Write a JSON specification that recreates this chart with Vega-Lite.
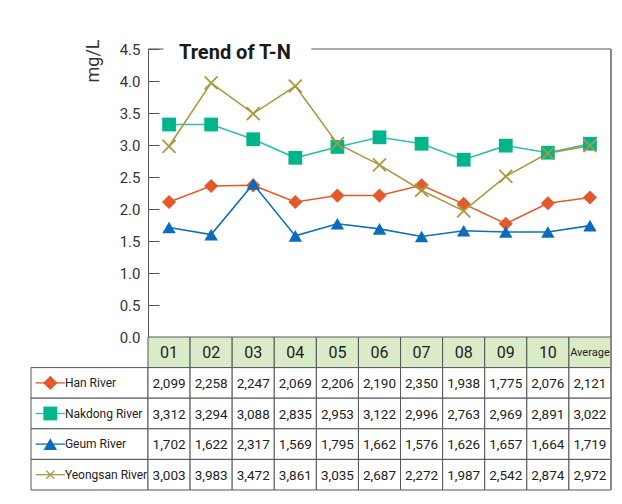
{
  "$schema": "https://vega.github.io/schema/vega-lite/v6.json",
  "background": "white",
  "padding": {"left": 30, "top": 39, "right": 5, "bottom": 5},
  "config": {
    "view": {"stroke": null},
    "font": "Roboto",
    "axisY": {"values": [0,0.5,1,1.5,2,2.5,3,3.5,4,4.5], "format": ".1f", "grid": false, "tickSize": -11, "labelPadding": 19, "tickColor": "#555", "domainColor": "#555", "labelColor": "#333", "labelFontSize": 15, "labelFont": "Roboto",
      "titleFontSize": 18, "titleFontWeight": "normal", "titleColor": "#333", "titleFont": "Roboto", "titleAngle": -90, "titleX": -46, "titleY": -10, "titleAlign": "right", "titleBaseline": "bottom"}
  },
  "datasets": {
    "tn": [
      {"river": "Han River", "month": "01", "plotted": 2.11, "table": "2,099"},
      {"river": "Han River", "month": "02", "plotted": 2.36, "table": "2,258"},
      {"river": "Han River", "month": "03", "plotted": 2.37, "table": "2,247"},
      {"river": "Han River", "month": "04", "plotted": 2.11, "table": "2,069"},
      {"river": "Han River", "month": "05", "plotted": 2.21, "table": "2,206"},
      {"river": "Han River", "month": "06", "plotted": 2.21, "table": "2,190"},
      {"river": "Han River", "month": "07", "plotted": 2.37, "table": "2,350"},
      {"river": "Han River", "month": "08", "plotted": 2.08, "table": "1,938"},
      {"river": "Han River", "month": "09", "plotted": 1.77, "table": "1,775"},
      {"river": "Han River", "month": "10", "plotted": 2.09, "table": "2,076"},
      {"river": "Han River", "month": "Average", "plotted": 2.18, "table": "2,121"},
      {"river": "Nakdong River", "month": "01", "plotted": 3.32, "table": "3,312"},
      {"river": "Nakdong River", "month": "02", "plotted": 3.32, "table": "3,294"},
      {"river": "Nakdong River", "month": "03", "plotted": 3.09, "table": "3,088"},
      {"river": "Nakdong River", "month": "04", "plotted": 2.8, "table": "2,835"},
      {"river": "Nakdong River", "month": "05", "plotted": 2.97, "table": "2,953"},
      {"river": "Nakdong River", "month": "06", "plotted": 3.12, "table": "3,122"},
      {"river": "Nakdong River", "month": "07", "plotted": 3.02, "table": "2,996"},
      {"river": "Nakdong River", "month": "08", "plotted": 2.77, "table": "2,763"},
      {"river": "Nakdong River", "month": "09", "plotted": 2.99, "table": "2,969"},
      {"river": "Nakdong River", "month": "10", "plotted": 2.88, "table": "2,891"},
      {"river": "Nakdong River", "month": "Average", "plotted": 3.02, "table": "3,022"},
      {"river": "Geum River", "month": "01", "plotted": 1.71, "table": "1,702"},
      {"river": "Geum River", "month": "02", "plotted": 1.6, "table": "1,622"},
      {"river": "Geum River", "month": "03", "plotted": 2.39, "table": "2,317"},
      {"river": "Geum River", "month": "04", "plotted": 1.58, "table": "1,569"},
      {"river": "Geum River", "month": "05", "plotted": 1.77, "table": "1,795"},
      {"river": "Geum River", "month": "06", "plotted": 1.69, "table": "1,662"},
      {"river": "Geum River", "month": "07", "plotted": 1.57, "table": "1,576"},
      {"river": "Geum River", "month": "08", "plotted": 1.66, "table": "1,626"},
      {"river": "Geum River", "month": "09", "plotted": 1.64, "table": "1,657"},
      {"river": "Geum River", "month": "10", "plotted": 1.64, "table": "1,664"},
      {"river": "Geum River", "month": "Average", "plotted": 1.74, "table": "1,719"},
      {"river": "Yeongsan River", "month": "01", "plotted": 2.98, "table": "3,003"},
      {"river": "Yeongsan River", "month": "02", "plotted": 3.97, "table": "3,983"},
      {"river": "Yeongsan River", "month": "03", "plotted": 3.49, "table": "3,472"},
      {"river": "Yeongsan River", "month": "04", "plotted": 3.92, "table": "3,861"},
      {"river": "Yeongsan River", "month": "05", "plotted": 3.02, "table": "3,035"},
      {"river": "Yeongsan River", "month": "06", "plotted": 2.69, "table": "2,687"},
      {"river": "Yeongsan River", "month": "07", "plotted": 2.29, "table": "2,272"},
      {"river": "Yeongsan River", "month": "08", "plotted": 1.97, "table": "1,987"},
      {"river": "Yeongsan River", "month": "09", "plotted": 2.51, "table": "2,542"},
      {"river": "Yeongsan River", "month": "10", "plotted": 2.87, "table": "2,874"},
      {"river": "Yeongsan River", "month": "Average", "plotted": 2.99, "table": "2,972"}
    ]
  },
  "columns": 2,
  "spacing": 0,
  "bounds": "flush",
  "align": "each",
  "resolve": {"scale": {"x": "independent", "y": "independent", "stroke": "independent", "fill": "independent", "shape": "independent"}},
  "concat": [
    {
      "width": 117, "height": 288,
      "data": {"values": []},
      "mark": "point"
    },
    {
      "width": 463, "height": 288,
      "title": {"text": "Trend of T-N", "anchor": "start", "frame": "group", "dx": 31, "baseline": "middle", "offset": -34, "fontSize": 20, "fontWeight": "bold", "color": "#1a1a1a", "font": "Roboto"},
      "data": {"name": "tn"},
      "layer": [
        {
          "mark": {"type": "line", "strokeWidth": 1.6},
          "encoding": {
            "x": {"field": "month", "type": "ordinal", "scale": {"type": "band", "paddingInner": 0, "paddingOuter": 0, "domain": ["01","02","03","04","05","06","07","08","09","10","Average"]}, "axis": null},
            "y": {"field": "plotted", "type": "quantitative", "scale": {"domain": [0, 4.5], "nice": false}, "title": "mg/L"},
            "stroke": {"field": "river", "type": "nominal", "scale": {"domain": ["Han River","Nakdong River","Geum River","Yeongsan River"], "range": ["#e3592a","#2ec1a1","#0e6fbd","#a99a3f"]}, "legend": null},
            "detail": {"field": "river"}
          }
        },
        {
          "data": {"values": [{}]},
          "mark": {"type": "rule", "color": "#555", "strokeWidth": 1},
          "encoding": {
            "x": {"datum": "01", "type": "ordinal", "bandPosition": 0, "axis": null},
            "x2": {"datum": "01", "bandPosition": 0.37},
            "y": {"datum": 4.5, "type": "quantitative", "title": "mg/L"}
          }
        },
        {
          "data": {"values": [{}]},
          "mark": {"type": "rule", "color": "#555", "strokeWidth": 1},
          "encoding": {
            "x": {"datum": "04", "type": "ordinal", "bandPosition": 0.88, "axis": null},
            "x2": {"datum": "Average", "bandPosition": 1},
            "y": {"datum": 4.5, "type": "quantitative", "title": "mg/L"}
          }
        },
        {
          "data": {"values": [{}]},
          "mark": {"type": "rule", "color": "#888", "strokeWidth": 2},
          "encoding": {
            "x": {"datum": "Average", "type": "ordinal", "bandPosition": 1, "axis": null}
          }
        },
        {
          "transform": [{"filter": "datum.river !== 'Yeongsan River'"}],
          "mark": {"type": "point", "filled": true, "opacity": 1},
          "encoding": {
            "x": {"field": "month", "type": "ordinal", "axis": null},
            "y": {"field": "plotted", "type": "quantitative", "title": "mg/L"},
            "fill": {"field": "river", "type": "nominal", "scale": {"domain": ["Han River","Nakdong River","Geum River"], "range": ["#e3592a","#00b48b","#0a6cbb"]}, "legend": null},
            "shape": {"field": "river", "type": "nominal", "scale": {"domain": ["Han River","Nakdong River","Geum River"], "range": ["diamond","square","triangle-up"]}, "legend": null},
            "size": {"field": "river", "type": "nominal", "scale": {"domain": ["Han River","Nakdong River","Geum River"], "range": [200, 180, 256]}, "legend": null}
          }
        },
        {
          "transform": [{"filter": "datum.river === 'Yeongsan River'"}],
          "mark": {"type": "point", "filled": false, "shape": "M-1,-1L1,1M-1,1L1,-1", "size": 169, "color": "#a99a3f", "strokeWidth": 1.8, "opacity": 1},
          "encoding": {
            "x": {"field": "month", "type": "ordinal", "axis": null},
            "y": {"field": "plotted", "type": "quantitative", "title": "mg/L"}
          }
        }
      ]
    },
    {
      "width": 117, "height": 153,
      "data": {"name": "tn"},
      "transform": [{"filter": "datum.month === '01'"}],
      "encoding": {
        "y": {"field": "river", "type": "nominal", "bandPosition": 0.5, "scale": {"type": "band", "paddingInner": 0, "paddingOuter": 0, "domain": ["Month","Han River","Nakdong River","Geum River","Yeongsan River"]}, "axis": null}
      },
      "layer": [
        {
          "mark": {"type": "rect", "fill": "white", "stroke": "#555", "strokeWidth": 1},
          "encoding": {
            "y": {"field": "river", "type": "nominal", "axis": null},
            "x": {"datum": 0, "type": "quantitative", "scale": {"domain": [0, 1], "nice": false, "zero": false}, "axis": null},
            "x2": {"datum": 1}
          }
        },
        {
          "mark": {"type": "rule", "strokeWidth": 1.3},
          "encoding": {
            "x": {"datum": 0.04, "type": "quantitative"},
            "x2": {"datum": 0.29},
            "stroke": {"field": "river", "type": "nominal", "scale": {"domain": ["Han River","Nakdong River","Geum River","Yeongsan River"], "range": ["#e3592a","#2ec1a1","#0e6fbd","#a99a3f"]}, "legend": null}
          }
        },
        {
          "transform": [{"filter": "datum.river !== 'Yeongsan River'"}],
          "mark": {"type": "point", "filled": true, "opacity": 1},
          "encoding": {
            "x": {"datum": 0.165, "type": "quantitative"},
            "fill": {"field": "river", "type": "nominal", "scale": {"domain": ["Han River","Nakdong River","Geum River"], "range": ["#e3592a","#00b48b","#0a6cbb"]}, "legend": null},
            "shape": {"field": "river", "type": "nominal", "scale": {"domain": ["Han River","Nakdong River","Geum River"], "range": ["diamond","square","triangle-up"]}, "legend": null},
            "size": {"field": "river", "type": "nominal", "scale": {"domain": ["Han River","Nakdong River","Geum River"], "range": [70, 60, 100]}, "legend": null}
          }
        },
        {
          "transform": [{"filter": "datum.river === 'Yeongsan River'"}],
          "mark": {"type": "point", "filled": false, "shape": "M-1,-1L1,1M-1,1L1,-1", "size": 64, "color": "#a99a3f", "strokeWidth": 1.3, "opacity": 1},
          "encoding": {"x": {"datum": 0.165, "type": "quantitative"}}
        },
        {
          "mark": {"type": "text", "align": "left", "baseline": "middle", "fontSize": 12, "color": "#222", "font": "Roboto"},
          "encoding": {
            "x": {"datum": 0.29, "type": "quantitative"},
            "text": {"field": "river"}
          }
        }
      ]
    },
    {
      "width": 463, "height": 153,
      "data": {"name": "tn"},
      "layer": [
        {
          "transform": [{"filter": "datum.river === 'Han River'"}],
          "mark": {"type": "rect", "fill": "#daebc7", "stroke": "#555", "strokeWidth": 1},
          "encoding": {
            "x": {"field": "month", "type": "ordinal", "scale": {"type": "band", "paddingInner": 0, "paddingOuter": 0, "domain": ["01","02","03","04","05","06","07","08","09","10","Average"]}, "axis": null},
            "y": {"datum": "Month", "type": "nominal", "scale": {"type": "band", "paddingInner": 0, "paddingOuter": 0, "domain": ["Month","Han River","Nakdong River","Geum River","Yeongsan River"]}, "axis": null}
          }
        },
        {
          "mark": {"type": "rect", "fill": "white", "stroke": "#555", "strokeWidth": 1},
          "encoding": {
            "x": {"field": "month", "type": "ordinal", "axis": null},
            "y": {"field": "river", "type": "nominal", "axis": null}
          }
        },
        {
          "transform": [{"filter": "datum.river === 'Han River'"}],
          "mark": {"type": "text", "baseline": "middle", "color": "#222", "dy": 1, "font": "Roboto"},
          "encoding": {
            "x": {"field": "month", "type": "ordinal", "axis": null},
            "y": {"datum": "Month", "type": "nominal", "bandPosition": 0.5, "axis": null},
            "text": {"field": "month"},
            "size": {"condition": {"test": "datum.month === 'Average'", "value": 11}, "value": 16}
          }
        },
        {
          "mark": {"type": "text", "baseline": "middle", "fontSize": 13.5, "color": "#222", "dy": 1, "font": "Roboto"},
          "encoding": {
            "x": {"field": "month", "type": "ordinal", "axis": null},
            "y": {"field": "river", "type": "nominal", "bandPosition": 0.5, "axis": null},
            "text": {"field": "table"}
          }
        },
        {
          "data": {"values": [{}]},
          "mark": {"type": "rule", "color": "#888", "strokeWidth": 2},
          "encoding": {
            "x": {"datum": "Average", "type": "ordinal", "bandPosition": 1, "axis": null}
          }
        }
      ]
    }
  ]
}
